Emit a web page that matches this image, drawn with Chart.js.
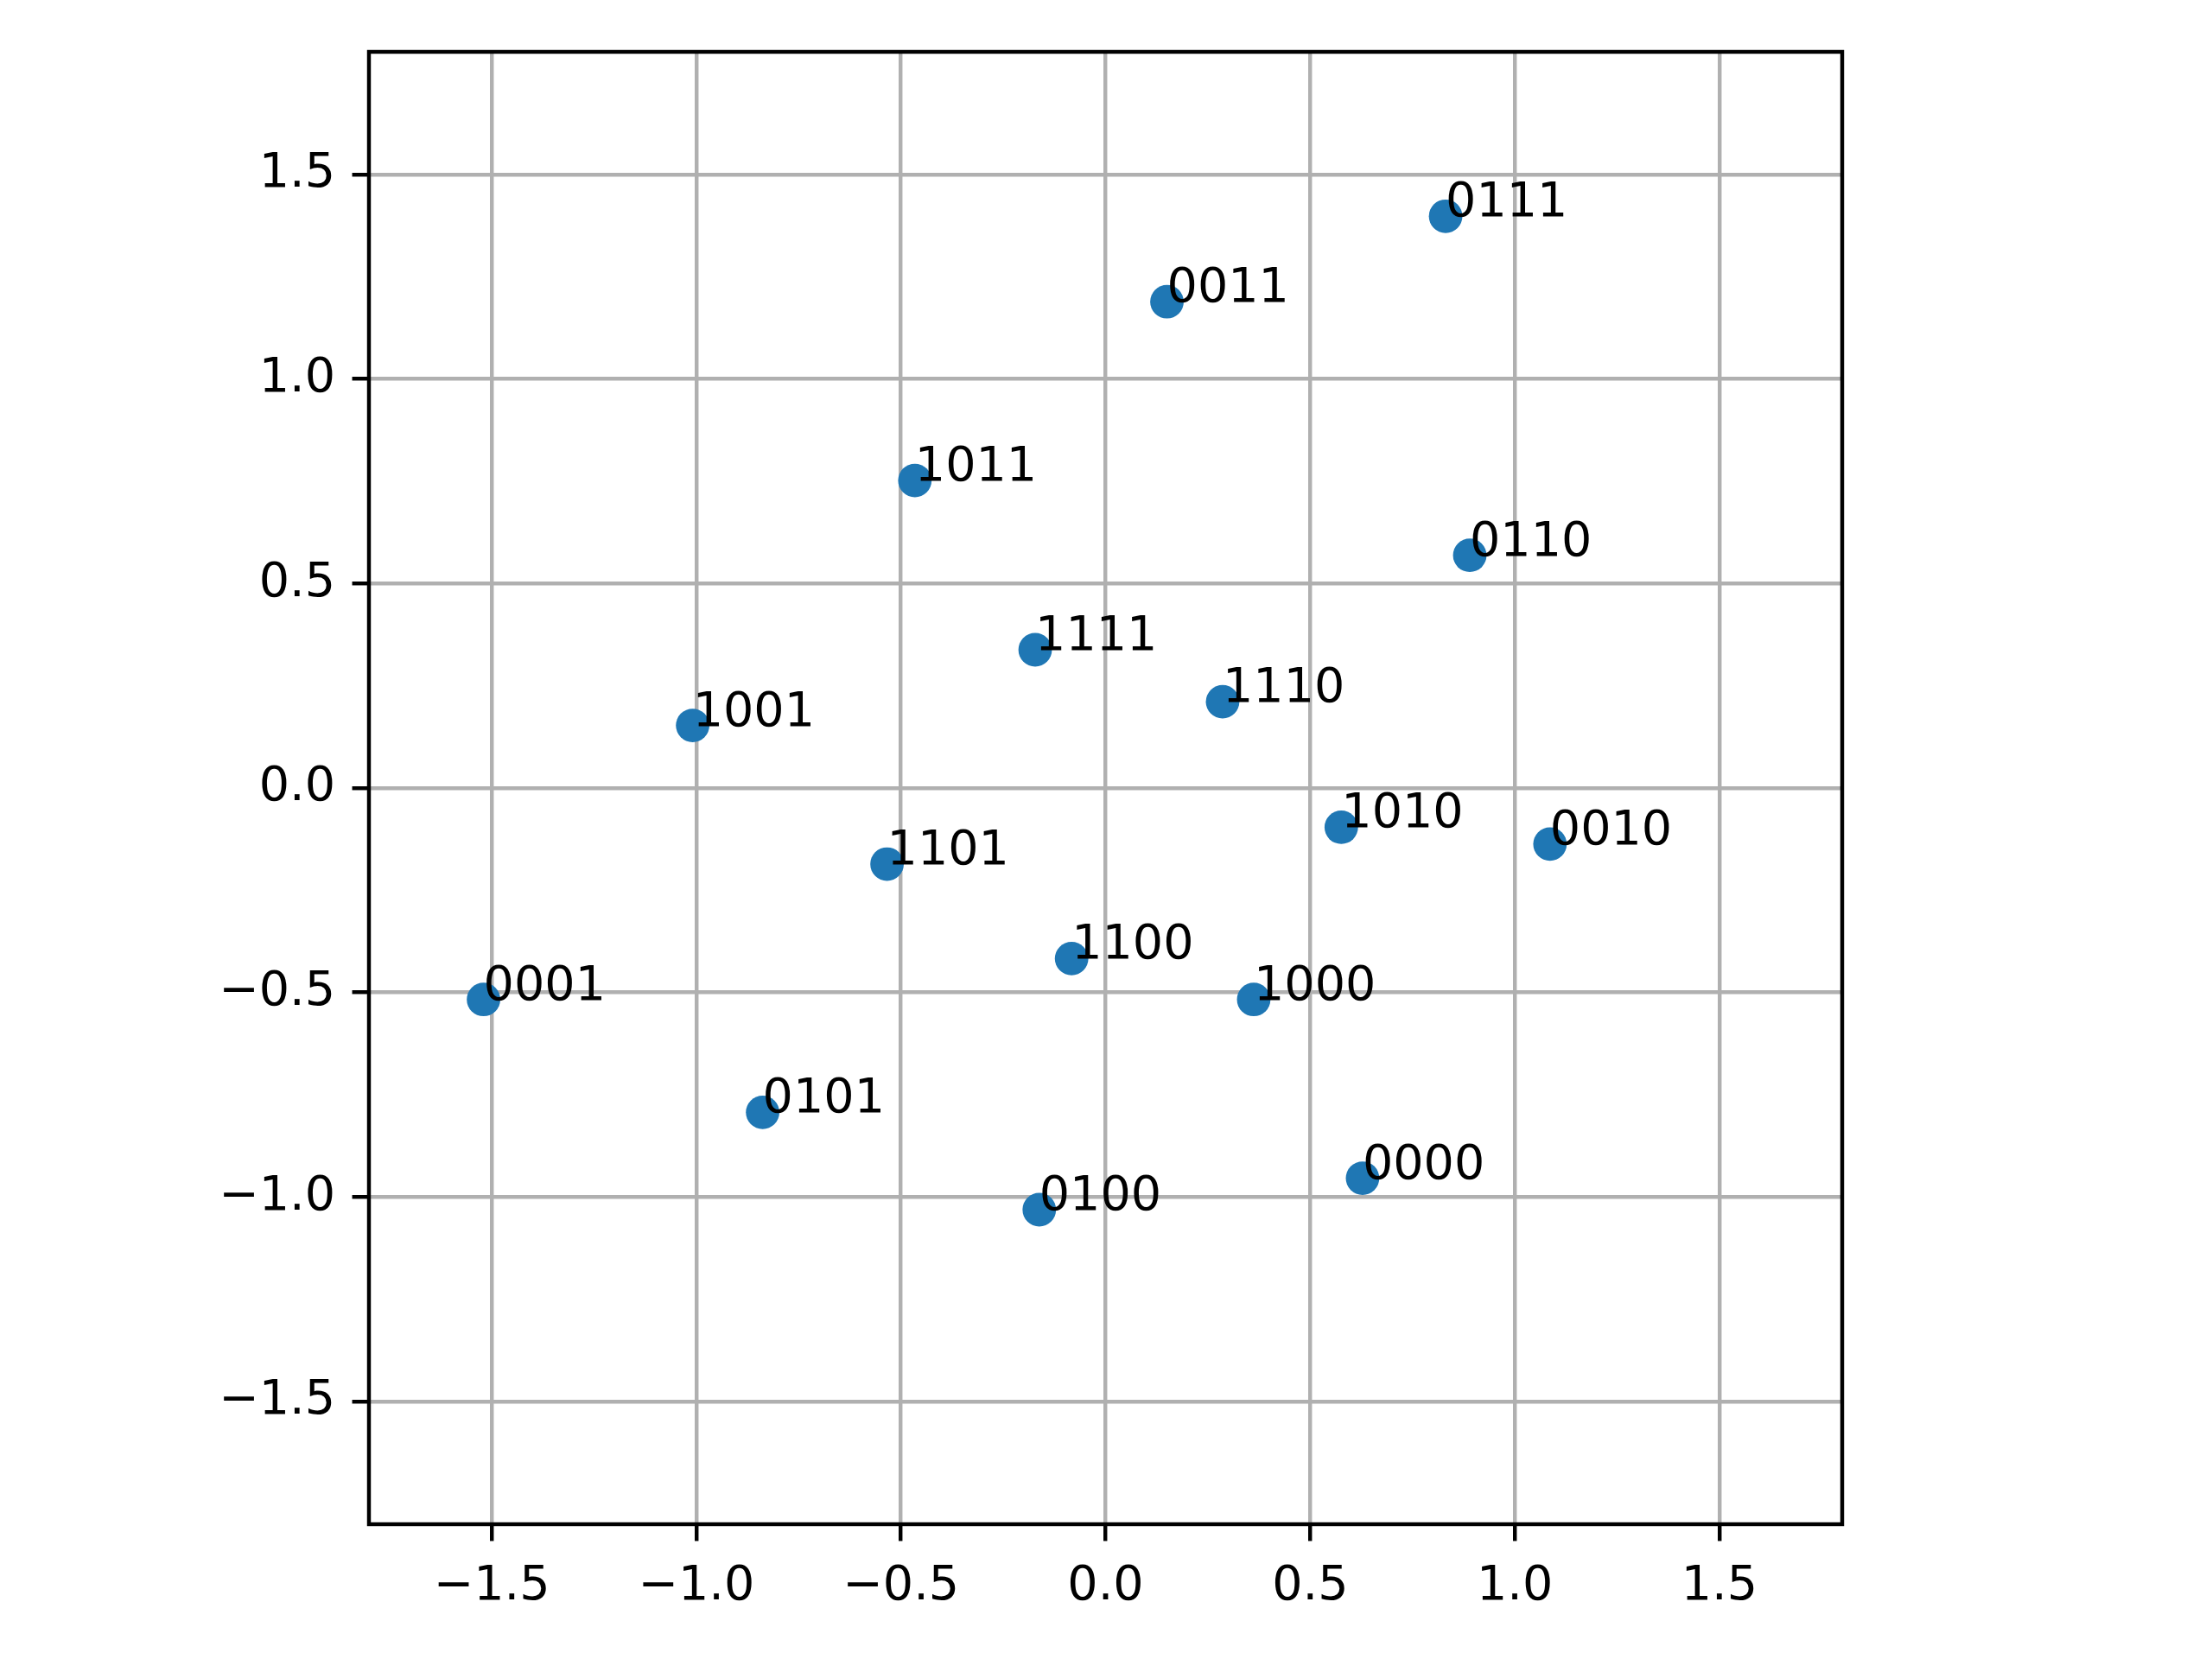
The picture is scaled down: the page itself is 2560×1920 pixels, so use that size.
<!DOCTYPE html>
<html>
<head>
<meta charset="utf-8">
<script src="https://cdn.jsdelivr.net/npm/chart.js@4/dist/chart.umd.min.js"></script>
<style>
  html, body { margin: 0; padding: 0; background: #fff; }
  #wrap { width: 2560px; height: 1920px; }
</style>
</head>
<body>
<div id="wrap"><canvas id="scatter" width="2560" height="1920"></canvas></div>
<script>
// point labels and their coordinates
var codes = ["0111", "0011", "1011", "0110", "1111", "1110", "1001", "1010",
             "0010", "1101", "1100", "1000", "0001", "0101", "0100", "0000"];
var xs = [0.831, 0.150, -0.466, 0.890, -0.172, 0.286, -1.009, 0.576,
          1.086, -0.534, -0.083, 0.362, -1.520, -0.838, -0.162, 0.628];
var ys = [1.398, 1.189, 0.752, 0.569, 0.338, 0.211, 0.153, -0.096,
          -0.137, -0.186, -0.417, -0.517, -0.517, -0.793, -1.031, -0.954];
var axisMin = -1.8, axisMax = 1.8, tickStep = 0.5;

var pt = 400 / 72;           // figure was saved at 400 dpi
var fontFamily = "'DejaVu Sans', sans-serif";
var fontSize = 10 * pt;

var points = xs.map(function (x, i) { return { x: x, y: ys[i] }; });

function tickLabel(v) {
  var s = Math.abs(v) < 1e-9 ? "0.0" : v.toFixed(1);
  return s.replace("-", "\u2212");
}

// annotate each point: text starts at the point, baseline on it
var pointLabels = {
  id: "pointLabels",
  afterDatasetsDraw: function (chart) {
    var ctx = chart.ctx, a = chart.chartArea;
    var sx = chart.scales.x, sy = chart.scales.y;
    ctx.save();
    // spines
    ctx.strokeStyle = "#000";
    ctx.lineWidth = 0.8 * pt;
    ctx.strokeRect(a.left, a.top, a.right - a.left, a.bottom - a.top);
    ctx.fillStyle = "#000";
    ctx.font = fontSize + "px " + fontFamily;
    ctx.textAlign = "left";
    ctx.textBaseline = "alphabetic";
    for (var i = 0; i < codes.length; i++) {
      ctx.fillText(codes[i], sx.getPixelForValue(xs[i]), sy.getPixelForValue(ys[i]));
    }
    ctx.restore();
  }
};

function axisOpts(size, horizontal) {
  return {
    type: "linear",
    min: axisMin,
    max: axisMax,
    afterFit: function (scale) {
      if (horizontal) scale.height = size; else scale.width = size;
    },
    grid: {
      color: "#b0b0b0",
      lineWidth: 0.8 * pt,
      drawTicks: true,
      tickLength: 3.5 * pt,
      tickColor: "#000",
      tickWidth: 0.8 * pt
    },
    border: { display: false },
    ticks: {
      stepSize: tickStep,
      includeBounds: false,
      autoSkip: false,
      maxRotation: 0,
      padding: 3.5 * pt,
      color: "#000",
      font: { family: fontFamily, size: fontSize },
      callback: function (v) { return tickLabel(v); }
    }
  };
}

var ctx = document.getElementById("scatter");
var scatterChart = new Chart(ctx, {
  type: "scatter",
  data: {
    datasets: [{
      data: points,
      backgroundColor: "#1f77b4",
      borderWidth: 0,
      pointRadius: 19.4,
      pointHoverRadius: 19.4
    }]
  },
  options: {
    responsive: false,
    animation: false,
    devicePixelRatio: 1,
    layout: { padding: { left: 0, top: 60, right: 428, bottom: 0 } },
    plugins: {
      legend: { display: false },
      tooltip: { enabled: false },
      title: { display: false }
    },
    scales: {
      x: axisOpts(156, true),
      y: axisOpts(427, false)
    }
  },
  plugins: [pointLabels]
});
</script>
</body>
</html>
